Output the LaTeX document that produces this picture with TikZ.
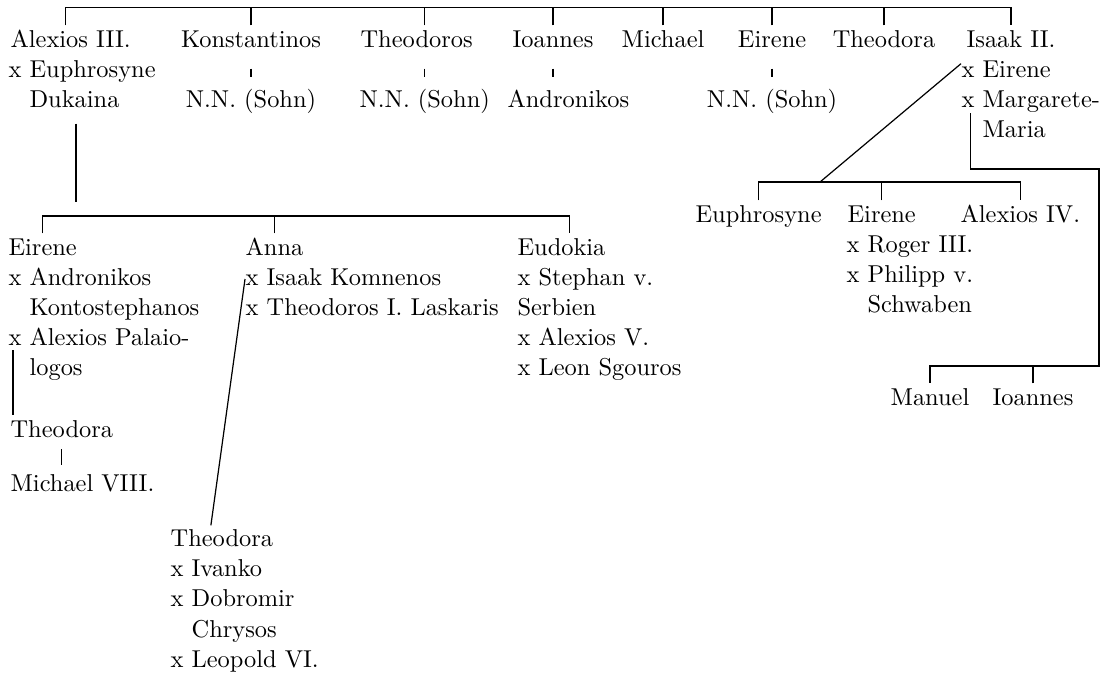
\documentclass[tikz,border=0pt]{standalone}
\newcommand{\einzug}{\hphantom{x\ }}
\newcommand{\zeilen}[1]{\begin{tabular}[t]{@{}l@{}}#1\end{tabular}}
\begin{document}
\begin{tikzpicture}[line width=0.5pt,
  person/.style={anchor=base west,inner sep=0pt},
  kidlink/.style={shorten <=4.9pt,shorten >=3.3pt}]
\useasboundingbox (0,0) rectangle (16.016,-9.679);
\begin{scope}[every node/.style={font=\fontsize{10}{12.3}\selectfont}]
% erste Generation
\node[person] (alexios) at (0.144,-0.677) {\zeilen{Alexios III.}};
\node[person] (alexiosx) at (0.115,-1.109) {\zeilen{x Euphrosyne\\\einzug Dukaina}};
\node[person,anchor=base] (konst) at (3.615,-0.677) {\zeilen{Konstantinos}};
\node[person,anchor=base] (nn1) at (3.615,-1.541) {\zeilen{N.N. (Sohn)}};
\node[person] (theodoros) at (5.185,-0.677) {\zeilen{Theodoros}};
\node[person] (nn2) at (5.171,-1.541) {\zeilen{N.N. (Sohn)}};
\node[person] (ioannes) at (7.374,-0.677) {\zeilen{Ioannes}};
\node[person] (andronikos) at (7.302,-1.541) {\zeilen{Andronikos}};
\node[person,anchor=base] (michael) at (9.549,-0.677) {\zeilen{Michael}};
\node[person,anchor=base] (eirene1) at (11.12,-0.677) {\zeilen{Eirene}};
\node[person,anchor=base] (nn3) at (11.12,-1.541) {\zeilen{N.N. (Sohn)}};
\node[person,anchor=base] (theodora1) at (12.732,-0.677) {\zeilen{Theodora}};
\node[person] (isaak) at (13.913,-0.677) {\zeilen{Isaak II.}};
\node[person] (isaakx1) at (13.841,-1.109) {\zeilen{x Eirene}};
\node[person] (isaakx2) at (13.841,-1.541) {\zeilen{x Margarete-\\\einzug Maria}};
% Kinder Alexios III.
\node[person] (eirene2) at (0.115,-3.673) {\zeilen{Eirene}};
\node[person] (eirene2x1) at (0.115,-4.105) {\zeilen{x Andronikos\\\einzug Kontostephanos}};
\node[person] (eirene2x2) at (0.115,-4.969) {\zeilen{x Alexios Palaio-\\\einzug logos}};
\node[person] (anna) at (3.529,-3.673) {\zeilen{Anna}};
\node[person] (annax1) at (3.529,-4.105) {\zeilen{x Isaak Komnenos}};
\node[person] (annax2) at (3.529,-4.537) {\zeilen{x Theodoros I. Laskaris}};
\node[person] (eudokia) at (7.446,-3.673) {\zeilen{Eudokia}};
\node[person] (eudokiax) at (7.446,-4.105) {\zeilen{x Stephan v.\\Serbien\\x Alexios V.\\x Leon Sgouros}};
\node[person] (theodora2) at (0.144,-6.294) {\zeilen{Theodora}};
\node[person] (michael8) at (0.144,-7.086) {\zeilen{Michael VIII.}};
\node[person] (theodora3) at (2.449,-7.878) {\zeilen{Theodora}};
\node[person] (theodora3x) at (2.449,-8.310) {\zeilen{x Ivanko\\x Dobromir\\\einzug Chrysos\\x Leopold VI.}};
% Kinder Isaak II.
\node[person] (euphrosyne) at (10.010,-3.198) {\zeilen{Euphrosyne}};
\node[person] (eirene3) at (12.199,-3.198) {\zeilen{Eirene}};
\node[person] (eirene3x1) at (12.185,-3.630) {\zeilen{x Roger III.}};
\node[person] (eirene3x2) at (12.185,-4.062) {\zeilen{x Philipp v.\\\einzug Schwaben}};
\node[person] (alexios4) at (13.827,-3.198) {\zeilen{Alexios IV.}};
\node[person] (manuel) at (12.819,-5.833) {\zeilen{Manuel}};
\node[person] (ioannes2) at (14.288,-5.833) {\zeilen{Ioannes}};
\end{scope}
\coordinate (top) at (0,-0.108);
\coordinate (dk) at (1.095,-2.909);
\coordinate (bar2) at (0,-3.111);
\coordinate (pal) at (0.187,-5.041);
\coordinate (c3) at (11.811,-2.621);
\coordinate (m1) at (15.829,-2.434);
\coordinate (bar4) at (15.829,-5.272);
% erste Generation
\draw ([xshift=-2pt]alexios.north) |- (top -| isaak.north) -- (isaak.north);
\draw (konst.north) -- (konst.north |- top);
\draw (theodoros.north -| nn2.north) -- (nn2.north |- top);
\draw (ioannes.north) -- (ioannes.north |- top);
\draw (michael.north) -- (michael.north |- top);
\draw (eirene1.north) -- (eirene1.north |- top);
\draw (theodora1.north) -- (theodora1.north |- top);
\draw[kidlink] (konst.south) -- (nn1.north);
\draw[kidlink] (theodoros.south -| nn2.north) -- (nn2.north);
\draw[kidlink] (ioannes.south) -- (ioannes.south |- andronikos.north);
\draw[kidlink] (eirene1.south) -- (nn3.north);
% Alexios III.
\draw[shorten <=2.9pt] (dk |- alexiosx.south) -- (dk);
\draw (eirene2.north) -- (eirene2.north |- bar2) -| ([xshift=3.3pt]eudokia.north);
\draw (anna.north) -- (anna.north |- bar2);
\draw (pal) -- (pal |- theodora2.north);
\draw[shorten <=1pt,shorten >=2pt] (theodora2.south) -- (theodora2.south |- michael8.north);
\draw (annax1.west) -- ([xshift=-4.5pt]theodora3.north);
% Isaak II.
\draw ([yshift=3pt]isaakx1.west) -- (c3);
\draw (euphrosyne.north) -- (euphrosyne.north |- c3) -| (alexios4.north);
\draw (eirene3.north) -- (eirene3.north |- c3);
\draw ([shift={(4pt,-2.5pt)}]isaakx2.base west) |- (m1) -- (bar4) -| (manuel.north);
\draw (ioannes2.north) -- (ioannes2.north |- bar4);
\end{tikzpicture}
\end{document}
